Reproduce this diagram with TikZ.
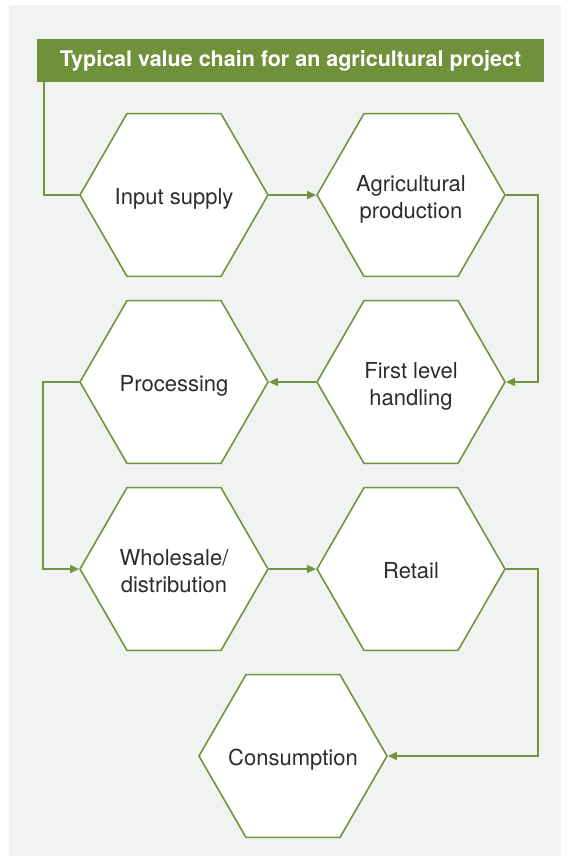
\documentclass[tikz,border=0pt]{standalone}
\usepackage{fontspec}
\setmainfont{TeX Gyre Heros}
\usetikzlibrary{shapes.geometric,arrows.meta}
\definecolor{Gline}{RGB}{114,148,64}
\definecolor{Gbar}{RGB}{110,145,58}
\definecolor{Pback}{RGB}{240,243,241}
\definecolor{Tdark}{RGB}{45,45,45}
% centred text that does not widen the hexagon
\newcommand{\hexlines}[1]{\makebox[0pt]{\raisebox{-9.5pt}[0pt][0pt]{\begin{tabular}{@{}c@{}}#1\end{tabular}}}}

\begin{document}
\begin{tikzpicture}[x=1pt,y=-1pt,
  hexa/.style={regular polygon,regular polygon sides=6,draw=Gline,line width=1.6pt,fill=white,minimum size=188pt,inner sep=0pt,text=Tdark,font=\fontsize{22}{27}\selectfont},
  link/.style={draw=Gline,line width=1.6pt},
  arr/.style={link,-{Triangle[length=9pt,width=8pt]}}]
\path[use as bounding box] (0,0) rectangle (571,861);
\fill[Pback] (9,5) rectangle (561,856);
% title bar
\node[fill=Gbar,minimum width=507pt,minimum height=43pt,inner sep=0pt,text=white,font=\bfseries\fontsize{21.5}{24}\selectfont] (title) at (290.5,60.5) {Typical value chain for an agricultural project};
% the chain
\node[hexa] (input) at (174,195) {\hexlines{Input supply}};
\node[hexa] (agri) at (411,195) {\hexlines{Agricultural\\production}};
\node[hexa] (firstlvl) at (411,382) {\hexlines{First level\\handling}};
\node[hexa] (proc) at (174,382) {\hexlines{Processing}};
\node[hexa] (whole) at (174,569) {\hexlines{Wholesale/\\distribution}};
\node[hexa] (retail) at (411,569) {\hexlines{Retail}};
\node[hexa] (consume) at (293,756) {\hexlines{Consumption}};
% links
\draw[link] ([xshift=7pt]title.south west) |- (input.west);
\draw[arr] (input) -- (agri);
\draw[arr] (agri.east) -- ++(32,0) |- (firstlvl.east);
\draw[arr] (firstlvl) -- (proc);
\draw[arr] (proc.west) -- ++(-36,0) |- (whole.west);
\draw[arr] (whole) -- (retail);
\draw[arr] (retail.east) -- ++(32,0) |- (consume.east);
\end{tikzpicture}
\end{document}
